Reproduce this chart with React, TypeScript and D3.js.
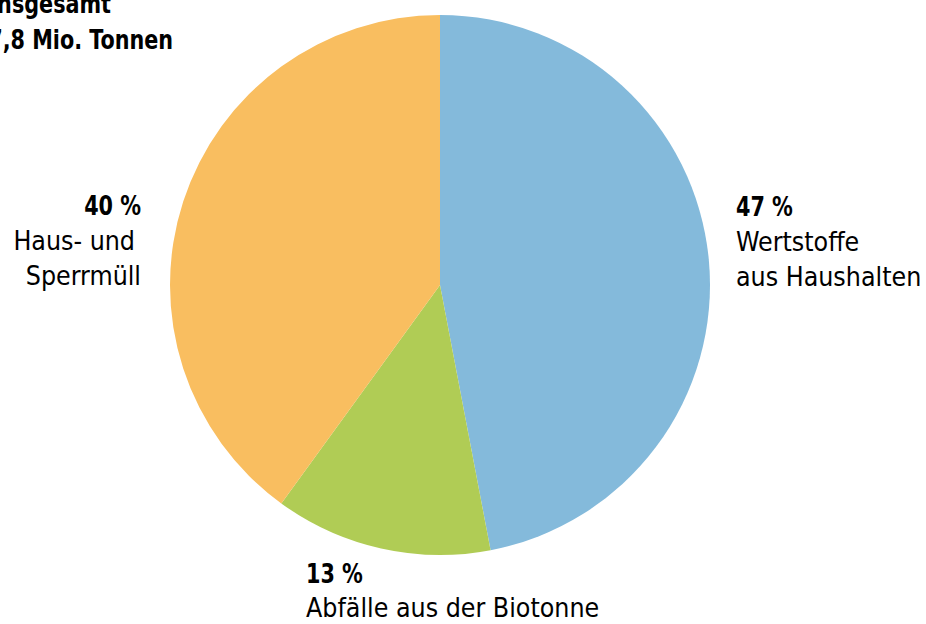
import React from "react";
import * as d3 from "d3";

const categories = ["Wertstoffe aus Haushalten", "Abfälle aus der Biotonne", "Haus- und Sperrmüll"];
const values = [47, 13, 40];
const colors = ["#84BADB", "#B0CC55", "#F9BE60"];
const titleLines = ["Insgesamt", "37,8 Mio. Tonnen"];

const W = 926;
const H = 624;
const cx = 440;
const cy = 285;
const R = 270;
const FONT = "'Liberation Sans Narrow', 'DejaVu Sans Condensed', Roboto, sans-serif";
const BOLD_SX = 0.87;

function BoldText({ x, y, anchor, size, children }: { x: number; y: number; anchor: string; size: number; children: React.ReactNode }) {
  return (
    <text
      transform={`translate(${x},${y}) scale(${BOLD_SX},1)`}
      textAnchor={anchor}
      fontWeight="bold"
      fontSize={size}
    >
      {children}
    </text>
  );
}

export default function App() {
  const pie = d3.pie<number>().sort(null).value((d) => d);
  const arcs = pie(values);
  const arcGen = d3.arc<d3.PieArcDatum<number>>().innerRadius(0).outerRadius(R);

  const labels = [
    { pct: `${values[0]} %`, lines: ["Wertstoffe", "aus Haushalten"], x: 736, y: 216, anchor: "start", dx: [0, 0, 0] },
    { pct: `${values[1]} %`, lines: ["Abfälle aus der Biotonne"], x: 306, y: 583, anchor: "start", dx: [0, 0] },
    { pct: `${values[2]} %`, lines: ["Haus- und", "Sperrmüll"], x: 141, y: 215, anchor: "end", dx: [0, -6, 0] },
  ];
  const lh = 35;

  return (
    <svg width={W} height={H} style={{ position: "absolute", left: 0, top: 0 }} fontFamily={FONT}>
      <rect width={W} height={H} fill="#fff" />
      <g transform={`translate(${cx},${cy})`}>
        {arcs.map((a, i) => (
          <path key={categories[i]} d={arcGen(a) || ""} fill={colors[i]} />
        ))}
      </g>
      {labels.map((l, i) => (
        <g key={i} fontSize={26.5}>
          <BoldText x={l.x + l.dx[0]} y={l.y} anchor={l.anchor} size={26.5}>{l.pct}</BoldText>
          {l.lines.map((t, j) => (
            <text key={j} x={l.x + l.dx[j + 1]} y={l.y + lh * (j + 1) - (l.lines.length === 1 ? 1 : 0)} textAnchor={l.anchor}>{t}</text>
          ))}
        </g>
      ))}
      <BoldText x={111} y={13} anchor="end" size={26.5}>{titleLines[0]}</BoldText>
      <BoldText x={173} y={49} anchor="end" size={26.5}>{titleLines[1]}</BoldText>
    </svg>
  );
}
